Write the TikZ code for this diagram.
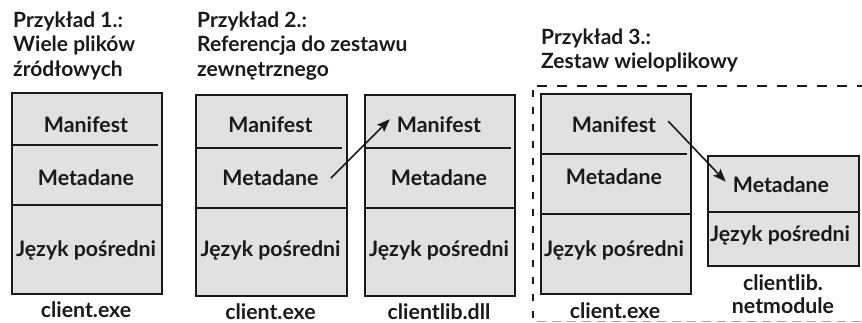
\documentclass[tikz,border=0pt]{standalone}
\usepackage{fontspec}
\setmainfont{Lato}[BoldFont={* Bold}]
\usetikzlibrary{arrows.meta}
\definecolor{boxfill}{HTML}{E1E1E1}
\definecolor{ink}{HTML}{1A1A1A}
\tikzset{
  box/.style={draw=ink, fill=boxfill, line width=1.8pt, inner sep=0pt, anchor=north west},
  lbl/.style={inner sep=0pt, anchor=base, font=\fontsize{21.3}{21.3}\selectfont\bfseries, text=ink},
  ttl/.style={inner sep=0pt, anchor=base west, font=\fontsize{21}{21}\selectfont\bfseries, text=ink},
  divl/.style={draw=ink, line width=1.6pt},
  arr/.style={draw=ink, line width=1.6pt, -{Stealth[length=13pt,width=10pt,inset=2.5pt]}},
}
\begin{document}
\begin{tikzpicture}[x=1pt,y=-1pt]
\useasboundingbox (0,0) rectangle (862,322);
% titles
\node[ttl] (t1a) at (13,27) {Przykład 1.:};
\node[ttl] (t1b) at (13,51.5) {Wiele plików};
\node[ttl] (t1c) at (13,76) {źródłowych};
\node[ttl] (t2a) at (197,27) {Przykład 2.:};
\node[ttl] (t2b) at (197,51.5) {Referencja do zestawu};
\node[ttl] (t2c) at (197,76) {zewnętrznego};
\node[ttl] (t3a) at (541,44) {Przykład 3.:};
\node[ttl] (t3b) at (541,68.5) {Zestaw wieloplikowy};
% dashed region
\draw[ink, line width=1.8pt, dash pattern=on 10pt off 10pt] (537,86) -- (870,86);
\draw[ink, line width=1.8pt, dash pattern=on 7pt off 10pt] (533,90) -- (533,330);
\draw[gray!70, line width=1.3pt, dash pattern=on 9pt off 6pt] (537,321.5) -- (870,321.5);
% box 1
\node[box, minimum width=150pt, minimum height=201pt] (b1) at (11,92) {};
\draw[divl] (11,145) -- (158,145);
\draw[divl] (11,205) -- (161,205);
\node[lbl] (mf1) at (86,132) {Manifest};
\node[lbl] (md1) at (86,185) {Metadane};
\node[lbl] (il1) at (86,256) {Język pośredni};
\node[lbl] (n1) at (86,317) {client.exe};
% box 2
\node[box, minimum width=151pt, minimum height=201pt] (b2) at (195,94) {};
\draw[divl] (195,148) -- (342,148);
\draw[divl] (195,208) -- (346,208);
\node[lbl] (mf2) at (270.5,132) {Manifest};
\node[lbl] (md2) at (270.5,185) {Metadane};
\node[lbl] (il2) at (270.5,256) {Język pośredni};
\node[lbl] (n2) at (270.5,319) {client.exe};
% box 3
\node[box, minimum width=150pt, minimum height=201pt] (b3) at (364,94) {};
\draw[divl] (364,148) -- (511,148);
\draw[divl] (364,208) -- (514,208);
\node[lbl] (mf3) at (439,132) {Manifest};
\node[lbl] (md3) at (439,185) {Metadane};
\node[lbl] (il3) at (439,256) {Język pośredni};
\node[lbl] (n3) at (439,319) {clientlib.dll};
% box 4
\node[box, minimum width=150pt, minimum height=200pt] (b4) at (540,93) {};
\draw[divl] (540,154) -- (687,154);
\draw[divl] (540,214) -- (690,214);
\node[lbl] (mf4) at (614,132) {Manifest};
\node[lbl] (md4) at (614,184) {Metadane};
\node[lbl] (il4) at (614,256) {Język pośredni};
\node[lbl] (n4) at (615,318) {client.exe};
% box 5
\node[box, minimum width=151pt, minimum height=110pt] (b5) at (707,155) {};
\draw[divl] (707,212) -- (858,212);
\node[lbl] (md5) at (781,192.5) {Metadane};
\node[lbl] (il5) at (780,241.5) {Język pośredni};
\node[lbl] (n5a) at (783,290) {clientlib.};
\node[lbl] (n5b) at (783,313) {netmodule};
% arrows
\draw[arr] ([xshift=12pt,yshift=-1pt]md2.east) -- ([xshift=-7pt,yshift=5pt]mf3.west);
\draw[arr] ([xshift=12pt,yshift=3pt]mf4.east) -- ([xshift=-7pt,yshift=3pt]md5.west);
\end{tikzpicture}
\end{document}
